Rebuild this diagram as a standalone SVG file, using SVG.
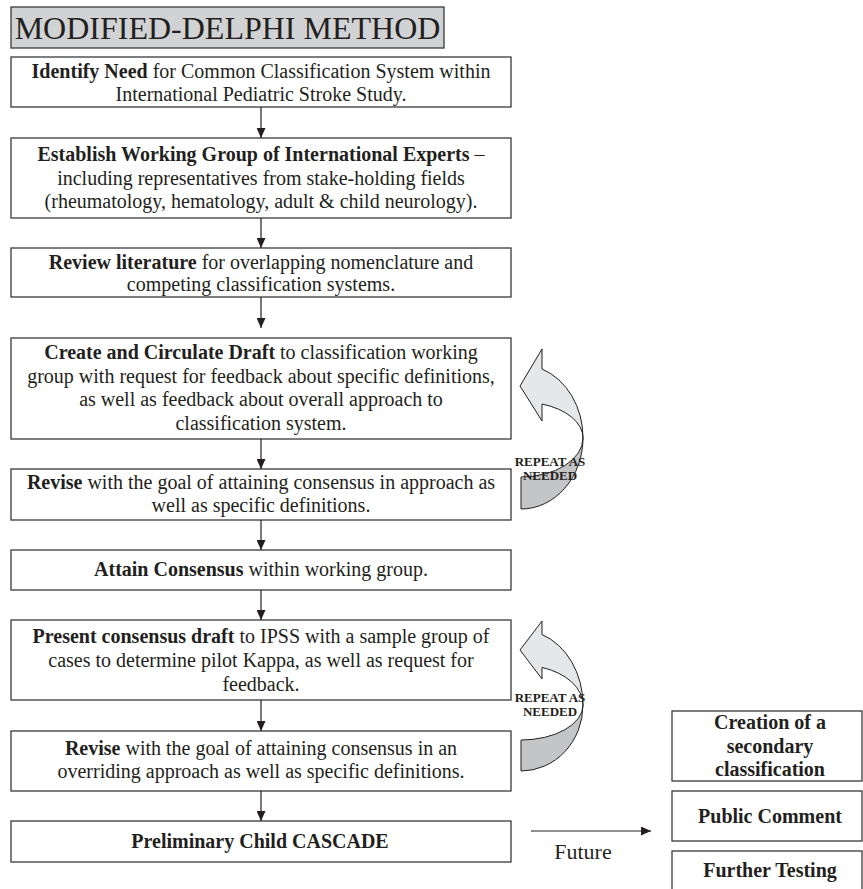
<svg xmlns="http://www.w3.org/2000/svg" width="863" height="889" viewBox="0 0 863 889">
<style>
text{font-family:"Liberation Serif","Times New Roman",serif;fill:#231f20}
.t{font-size:20px;text-anchor:middle}
.b{font-weight:bold}
.box{fill:#fff;stroke:#3a3a3a;stroke-width:1.3}
.conn line{stroke:#231f20;stroke-width:1.2}
.rep{font-size:13px;font-weight:bold;text-anchor:middle}
.light{fill:#e6e7e8;stroke:#231f20;stroke-width:1}
.dark{fill:#c4c5c7;stroke:#231f20;stroke-width:1}
</style>
<defs>
<marker id="ah" viewBox="0 0 10 9" refX="10" refY="4.5" markerWidth="10" markerHeight="9" markerUnits="userSpaceOnUse" orient="auto">
<path d="M0,0 L10,4.5 L0,9 z" fill="#231f20"/>
</marker>
</defs>
<rect width="863" height="889" fill="#fff"/>

<g id="title">
<rect x="11" y="7" width="433" height="41" fill="#d1d2d4" stroke="#3a3a3a" stroke-width="1.3"/>
<text x="227.5" y="39" style="font-size:32px;text-anchor:middle">MODIFIED-DELPHI METHOD</text>
</g>

<g id="n1">
<rect class="box" x="11" y="57" width="500" height="50"/>
<text class="t" x="261" y="78"><tspan class="b">Identify Need</tspan> for Common Classification System within</text>
<text class="t" x="261" y="101">International Pediatric Stroke Study.</text>
</g>

<g id="n2">
<rect class="box" x="11" y="138" width="500" height="80"/>
<text class="t" x="261" y="161"><tspan class="b">Establish Working Group of International Experts</tspan> –</text>
<text class="t" x="261" y="185">including representatives from stake-holding fields</text>
<text class="t" x="261" y="208">(rheumatology, hematology, adult &amp; child neurology).</text>
</g>

<g id="n3">
<rect class="box" x="11" y="248" width="500" height="49"/>
<text class="t" x="261" y="269"><tspan class="b">Review literature</tspan> for overlapping nomenclature and</text>
<text class="t" x="261" y="291">competing classification systems.</text>
</g>

<g id="n4">
<rect class="box" x="11" y="338" width="500" height="101"/>
<text class="t" x="261" y="359"><tspan class="b">Create and Circulate Draft</tspan> to classification working</text>
<text class="t" x="261" y="383">group with request for feedback about specific definitions,</text>
<text class="t" x="261" y="406">as well as feedback about overall approach to</text>
<text class="t" x="261" y="430">classification system.</text>
</g>

<g id="n5">
<rect class="box" x="11" y="469" width="500" height="51"/>
<text class="t" x="261" y="489"><tspan class="b">Revise</tspan> with the goal of attaining consensus in approach as</text>
<text class="t" x="261" y="512">well as specific definitions.</text>
</g>

<g id="n6">
<rect class="box" x="11" y="550" width="500" height="40"/>
<text class="t" x="261" y="576"><tspan class="b">Attain Consensus</tspan> within working group.</text>
</g>

<g id="n7">
<rect class="box" x="11" y="620" width="500" height="80"/>
<text class="t" x="261" y="643"><tspan class="b">Present consensus draft</tspan> to IPSS with a sample group of</text>
<text class="t" x="261" y="667">cases to determine pilot Kappa, as well as request for</text>
<text class="t" x="261" y="691">feedback.</text>
</g>

<g id="n8">
<rect class="box" x="11" y="731" width="500" height="60"/>
<text class="t" x="261" y="755"><tspan class="b">Revise</tspan> with the goal of attaining consensus in an</text>
<text class="t" x="261" y="778">overriding approach as well as specific definitions.</text>
</g>

<g id="n9">
<rect class="box" x="11" y="821" width="500" height="41"/>
<text class="t b" x="260" y="848">Preliminary Child CASCADE</text>
</g>

<g id="f1">
<rect class="box" x="672" y="711" width="190" height="70"/>
<text class="t b" x="770" y="729">Creation of a</text>
<text class="t b" x="770" y="753">secondary</text>
<text class="t b" x="770" y="776">classification</text>
</g>
<g id="f2">
<rect class="box" x="672" y="791" width="190" height="50"/>
<text class="t b" x="770" y="823">Public Comment</text>
</g>
<g id="f3">
<rect class="box" x="672" y="851" width="190" height="60"/>
<text class="t b" x="770" y="877">Further Testing</text>
</g>

<g id="repeat1">
<path class="dark" d="M521,477 A62,39 0 0 0 583,438 A62,71 0 0 1 521,509 Z"/>
<path class="light" d="M520,386 L542,349 L542,369 A62,73 0 0 1 583,438 A62,36 0 0 0 542,404 L542,421 Z"/>
<text class="rep" x="550" y="466">REPEAT AS</text>
<text class="rep" x="550" y="480">NEEDED</text>
</g>

<g id="repeat2">
<path class="dark" d="M521,740 A62,35 0 0 0 583,705 A62,66 0 0 1 521,771 Z"/>
<path class="light" d="M520,650 L542,621 L542,634.5 A62,75 0 0 1 583,705 A62,40 0 0 0 542,667.4 L542,679 Z"/>
<text class="rep" x="550" y="702">REPEAT AS</text>
<text class="rep" x="550" y="716">NEEDED</text>
</g>

<g id="connectors" class="conn">
<line x1="261" y1="107" x2="261" y2="138" marker-end="url(#ah)"/>
<line x1="261" y1="218" x2="261" y2="248" marker-end="url(#ah)"/>
<line x1="261" y1="297" x2="261" y2="328" marker-end="url(#ah)"/>
<line x1="261" y1="439" x2="261" y2="469" marker-end="url(#ah)"/>
<line x1="261" y1="520" x2="261" y2="550" marker-end="url(#ah)"/>
<line x1="261" y1="590" x2="261" y2="620" marker-end="url(#ah)"/>
<line x1="261" y1="700" x2="261" y2="731" marker-end="url(#ah)"/>
<line x1="261" y1="791" x2="261" y2="821" marker-end="url(#ah)"/>
<line x1="531" y1="831" x2="651" y2="831" marker-end="url(#ah)"/>
</g>
<text x="583" y="859" style="font-size:22px;text-anchor:middle">Future</text>
</svg>
